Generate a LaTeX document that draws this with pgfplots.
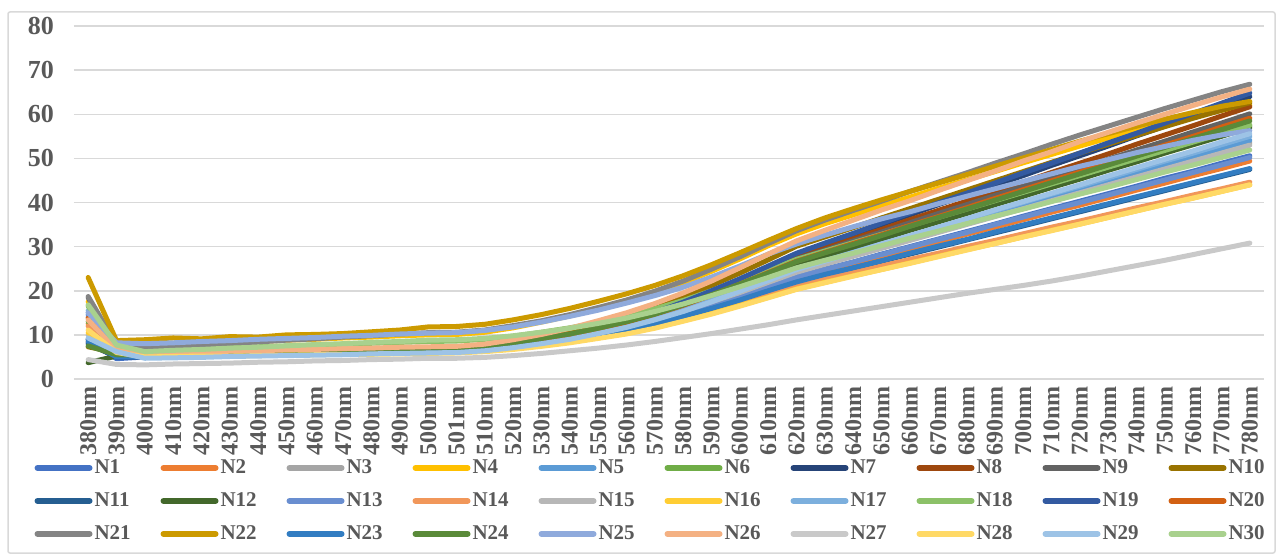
\documentclass[border=0pt]{standalone}
\usepackage{pgfplots}
\pgfplotsset{compat=1.18}
\usepackage{fontspec}
\setmainfont{Liberation Serif}

\definecolor{c01}{HTML}{4472C4}
\definecolor{c02}{HTML}{ED7D31}
\definecolor{c03}{HTML}{A5A5A5}
\definecolor{c04}{HTML}{FFC000}
\definecolor{c05}{HTML}{5B9BD5}
\definecolor{c06}{HTML}{70AD47}
\definecolor{c07}{HTML}{264478}
\definecolor{c08}{HTML}{9E480E}
\definecolor{c09}{HTML}{636363}
\definecolor{c10}{HTML}{997300}
\definecolor{c11}{HTML}{255E91}
\definecolor{c12}{HTML}{43682B}
\definecolor{c13}{HTML}{698ED0}
\definecolor{c14}{HTML}{F1975A}
\definecolor{c15}{HTML}{B7B7B7}
\definecolor{c16}{HTML}{FFCD33}
\definecolor{c17}{HTML}{7CAFDD}
\definecolor{c18}{HTML}{8CC168}
\definecolor{c19}{HTML}{335AA1}
\definecolor{c20}{HTML}{D26012}
\definecolor{c21}{HTML}{848484}
\definecolor{c22}{HTML}{CC9A00}
\definecolor{c23}{HTML}{327DC2}
\definecolor{c24}{HTML}{5A8A39}
\definecolor{c25}{HTML}{8FAADC}
\definecolor{c26}{HTML}{F4B183}
\definecolor{c27}{HTML}{C9C9C9}
\definecolor{c28}{HTML}{FFD966}
\definecolor{c29}{HTML}{9DC3E6}
\definecolor{c30}{HTML}{A9D18E}
\definecolor{txt}{HTML}{595959}
\definecolor{grd}{HTML}{D9D9D9}

\begin{document}
\begin{tikzpicture}
\path[use as bounding box] (0,0) rectangle (640.5pt,279pt);
\draw[grd, line width=0.75pt, rounded corners=1pt] (4pt,2.5pt) rectangle (637.5pt,273pt);
\begin{axis}[
  at={(37pt,89.5pt)}, anchor=south west,
  scale only axis, width=595pt, height=176.5pt,
  xmin=-0.5, xmax=41.5, ymin=0, ymax=80,
  ytick={0,10,...,80},
  xtick={0,...,41},
  xticklabels={380nm,390nm,400nm,410nm,420nm,430nm,440nm,450nm,460nm,470nm,480nm,490nm,500nm,501nm,510nm,520nm,530nm,540nm,550nm,560nm,570nm,580nm,590nm,600nm,610nm,620nm,630nm,640nm,650nm,660nm,670nm,680nm,690nm,700nm,710nm,720nm,730nm,740nm,750nm,760nm,770nm,780nm},
  x tick label style={rotate=90, anchor=east, font=\fontsize{12}{13}\selectfont\bfseries, text=txt},
  y tick label style={font=\fontsize{13}{15}\selectfont\bfseries, text=txt, xshift=-6.5pt},
  /pgf/number format/assume math mode=true,
  ymajorgrids, grid style={grd, line width=0.75pt},
  axis line style={draw=none},
  major tick length=0pt,
  every axis plot/.append style={line width=2.5pt, line join=round, line cap=round},
  legend columns=10,
  legend style={draw=none, fill=none, at={(-0.0335,-0.221)}, anchor=north west,
    inner sep=0pt, font=\fontsize{10.5}{12}\selectfont\bfseries, text=txt,
    row sep=6pt, nodes={inner sep=1pt},
    /tikz/every even column/.append style={column sep=4pt}},
  legend image code/.code={\draw[#1, line width=3pt, line cap=round] (0pt,0pt) -- (26pt,0pt);},
]
% 42 categories: 380,390,400..500,501,510..780
\addplot[c01] table[x expr=\coordindex,y index=0,header=false,row sep=\\]{9.0\\4.6\\5.0\\5.1\\5.3\\5.4\\5.5\\5.7\\5.8\\5.9\\6.0\\6.2\\6.3\\6.4\\6.7\\7.4\\8.2\\9.1\\10.2\\11.4\\13.0\\14.7\\16.7\\18.7\\20.9\\23.1\\24.9\\26.5\\28.3\\30.0\\31.7\\33.4\\35.1\\36.9\\38.6\\40.3\\42.0\\43.7\\45.5\\47.1\\48.9\\50.6\\};
\addlegendentry{\makebox[28pt][l]{N1}}
\addplot[c02] table[x expr=\coordindex,y index=0,header=false,row sep=\\]{12.5\\5.5\\5.3\\5.4\\5.5\\5.7\\5.8\\5.9\\6.0\\6.1\\6.3\\6.4\\6.5\\6.6\\6.9\\7.5\\8.3\\9.2\\10.3\\11.5\\12.9\\14.7\\16.5\\18.6\\20.7\\22.8\\24.5\\26.1\\27.8\\29.5\\31.1\\32.8\\34.4\\36.1\\37.8\\39.4\\41.1\\42.8\\44.4\\46.1\\47.7\\49.4\\};
\addlegendentry{\makebox[28pt][l]{N2}}
\addplot[c03] table[x expr=\coordindex,y index=0,header=false,row sep=\\]{14.0\\6.0\\5.5\\5.6\\5.8\\5.9\\6.0\\6.2\\6.3\\6.4\\6.5\\6.7\\6.8\\6.9\\7.3\\7.9\\8.8\\9.7\\10.9\\12.2\\13.8\\15.7\\17.7\\19.9\\22.2\\24.5\\26.4\\28.1\\30.0\\31.8\\33.6\\35.4\\37.2\\39.0\\40.8\\42.6\\44.4\\46.3\\48.1\\49.9\\51.7\\53.5\\};
\addlegendentry{\makebox[28pt][l]{N3}}
\addplot[c04] table[x expr=\coordindex,y index=0,header=false,row sep=\\]{17.5\\7.8\\7.5\\7.8\\8.0\\8.3\\8.5\\8.8\\9.0\\9.3\\9.5\\9.8\\10.0\\10.1\\10.6\\11.6\\12.9\\14.3\\15.9\\17.6\\19.6\\21.8\\24.4\\27.2\\30.2\\32.9\\35.2\\37.2\\39.3\\41.2\\43.2\\45.1\\47.0\\49.0\\50.9\\52.8\\54.6\\56.3\\57.9\\59.5\\60.9\\62.0\\};
\addlegendentry{\makebox[28pt][l]{N4}}
\addplot[c05] table[x expr=\coordindex,y index=0,header=false,row sep=\\]{15.0\\5.8\\5.3\\5.4\\5.5\\5.7\\5.8\\5.9\\6.0\\6.1\\6.3\\6.4\\6.5\\6.6\\7.0\\7.6\\8.5\\9.5\\10.7\\12.0\\13.6\\15.5\\17.6\\19.9\\22.2\\24.6\\26.4\\28.3\\30.1\\32.0\\33.8\\35.6\\37.5\\39.3\\41.2\\43.0\\44.9\\46.7\\48.6\\50.4\\52.2\\54.1\\};
\addlegendentry{\makebox[28pt][l]{N5}}
\addplot[c06] table[x expr=\coordindex,y index=0,header=false,row sep=\\]{13.0\\5.6\\5.3\\5.5\\5.6\\5.8\\5.9\\6.1\\6.2\\6.4\\6.5\\6.7\\6.8\\6.9\\7.3\\8.0\\8.9\\10.0\\11.3\\12.7\\14.4\\16.4\\18.7\\21.1\\23.5\\26.1\\28.0\\30.0\\31.9\\33.9\\35.9\\37.8\\39.8\\41.8\\43.8\\45.7\\47.7\\49.6\\51.6\\53.5\\55.5\\57.5\\};
\addlegendentry{\makebox[28pt][l]{N6}}
\addplot[c07] table[x expr=\coordindex,y index=0,header=false,row sep=\\]{8.0\\5.0\\5.0\\5.1\\5.3\\5.4\\5.6\\5.7\\5.8\\6.0\\6.1\\6.3\\6.4\\6.5\\7.0\\7.8\\8.8\\10.0\\11.5\\13.1\\15.0\\17.3\\19.9\\22.6\\25.4\\28.3\\30.5\\32.7\\35.0\\37.2\\39.5\\41.7\\43.9\\46.1\\48.4\\50.6\\52.8\\55.1\\57.3\\59.5\\61.8\\64.0\\};
\addlegendentry{\makebox[28pt][l]{N7}}
\addplot[c08] table[x expr=\coordindex,y index=0,header=false,row sep=\\]{8.5\\5.5\\5.2\\5.3\\5.5\\5.6\\5.8\\5.9\\6.0\\6.2\\6.3\\6.5\\6.6\\6.7\\7.2\\7.9\\8.9\\10.1\\11.5\\13.0\\14.9\\17.1\\19.5\\22.1\\24.8\\27.5\\29.7\\31.8\\33.9\\36.1\\38.2\\40.3\\42.5\\44.6\\46.8\\48.9\\51.0\\53.2\\55.3\\57.4\\59.6\\61.7\\};
\addlegendentry{\makebox[28pt][l]{N8}}
\addplot[c09] table[x expr=\coordindex,y index=0,header=false,row sep=\\]{18.5\\6.8\\5.6\\5.7\\5.9\\6.0\\6.2\\6.3\\6.4\\6.6\\6.7\\6.9\\7.0\\7.1\\7.5\\8.3\\9.2\\10.3\\11.7\\13.2\\15.0\\17.1\\19.4\\21.9\\24.5\\27.2\\29.2\\31.3\\33.3\\35.4\\37.5\\39.5\\41.6\\43.6\\45.7\\47.7\\49.8\\51.9\\53.9\\56.0\\58.0\\60.1\\};
\addlegendentry{\makebox[28pt][l]{N9}}
\addplot[c10] table[x expr=\coordindex,y index=0,header=false,row sep=\\]{7.3\\6.0\\5.5\\5.7\\5.8\\6.0\\6.1\\6.3\\6.4\\6.6\\6.7\\6.9\\7.0\\7.1\\7.6\\8.5\\9.7\\11.0\\12.6\\14.3\\16.3\\18.6\\21.2\\24.0\\27.0\\30.1\\32.2\\34.3\\36.5\\38.6\\40.7\\42.8\\44.9\\47.0\\49.1\\51.2\\53.2\\55.2\\57.2\\59.1\\60.9\\62.6\\};
\addlegendentry{\makebox[28pt][l]{N10}}
\addplot[c11] table[x expr=\coordindex,y index=0,header=false,row sep=\\]{8.2\\5.0\\5.0\\5.1\\5.2\\5.4\\5.5\\5.6\\5.7\\5.8\\6.0\\6.1\\6.2\\6.3\\6.6\\7.2\\7.9\\8.8\\9.8\\11.0\\12.4\\14.1\\15.9\\17.8\\19.8\\21.9\\23.5\\25.1\\26.7\\28.3\\29.9\\31.5\\33.1\\34.7\\36.3\\37.9\\39.5\\41.1\\42.7\\44.3\\45.9\\47.5\\};
\addlegendentry{\makebox[28pt][l]{N11}}
\addplot[c12] table[x expr=\coordindex,y index=0,header=false,row sep=\\]{3.7\\5.2\\5.2\\5.4\\5.5\\5.7\\5.8\\6.0\\6.2\\6.3\\6.5\\6.6\\6.8\\6.9\\7.3\\8.0\\8.9\\10.0\\11.2\\12.6\\14.3\\16.3\\18.6\\20.9\\23.4\\25.9\\27.8\\29.7\\31.7\\33.7\\35.6\\37.5\\39.5\\41.4\\43.4\\45.3\\47.3\\49.2\\51.2\\53.1\\55.0\\57.0\\};
\addlegendentry{\makebox[28pt][l]{N12}}
\addplot[c13] table[x expr=\coordindex,y index=0,header=false,row sep=\\]{14.5\\5.2\\5.2\\5.3\\5.5\\5.6\\5.7\\5.9\\6.0\\6.1\\6.2\\6.4\\6.5\\6.6\\6.9\\7.6\\8.3\\9.3\\10.3\\11.6\\13.1\\14.8\\16.7\\18.8\\20.9\\23.1\\24.8\\26.5\\28.2\\29.9\\31.6\\33.2\\35.0\\36.7\\38.4\\40.0\\41.7\\43.4\\45.1\\46.8\\48.5\\50.2\\};
\addlegendentry{\makebox[28pt][l]{N13}}
\addplot[c14] table[x expr=\coordindex,y index=0,header=false,row sep=\\]{12.0\\5.6\\5.6\\5.7\\5.9\\6.0\\6.1\\6.3\\6.4\\6.5\\6.6\\6.8\\6.9\\7.0\\7.3\\7.8\\8.5\\9.3\\10.2\\11.3\\12.6\\14.1\\15.7\\17.5\\19.3\\21.2\\22.7\\24.1\\25.6\\27.1\\28.5\\30.0\\31.4\\32.9\\34.4\\35.8\\37.3\\38.8\\40.2\\41.7\\43.1\\44.6\\};
\addlegendentry{\makebox[28pt][l]{N14}}
\addplot[c15] table[x expr=\coordindex,y index=0,header=false,row sep=\\]{10.0\\5.5\\5.3\\5.4\\5.6\\5.7\\5.8\\6.0\\6.1\\6.2\\6.3\\6.5\\6.6\\6.7\\7.1\\7.7\\8.6\\9.5\\10.7\\12.0\\13.6\\15.4\\17.5\\19.6\\21.9\\24.2\\26.0\\27.8\\29.6\\31.4\\33.2\\35.0\\36.8\\38.6\\40.4\\42.2\\44.0\\45.8\\47.6\\49.4\\51.2\\53.0\\};
\addlegendentry{\makebox[28pt][l]{N15}}
\addplot[c16] table[x expr=\coordindex,y index=0,header=false,row sep=\\]{10.5\\6.0\\5.0\\5.1\\5.2\\5.3\\5.4\\5.5\\5.6\\5.7\\5.8\\5.9\\6.0\\6.1\\6.4\\6.9\\7.6\\8.4\\9.3\\10.4\\11.7\\13.2\\14.9\\16.7\\18.5\\20.4\\21.9\\23.4\\24.8\\26.3\\27.8\\29.3\\30.7\\32.2\\33.7\\35.1\\36.6\\38.1\\39.6\\41.0\\42.5\\44.0\\};
\addlegendentry{\makebox[28pt][l]{N16}}
\addplot[c17] table[x expr=\coordindex,y index=0,header=false,row sep=\\]{15.5\\6.0\\5.5\\5.6\\5.7\\5.8\\5.9\\6.0\\6.1\\6.2\\6.3\\6.4\\6.5\\6.6\\7.0\\7.7\\8.5\\9.6\\10.8\\12.1\\13.8\\15.7\\17.9\\20.1\\22.5\\24.9\\26.8\\28.7\\30.6\\32.4\\34.3\\36.2\\38.1\\40.0\\41.9\\43.7\\45.6\\47.5\\49.4\\51.2\\53.1\\55.0\\};
\addlegendentry{\makebox[28pt][l]{N17}}
\addplot[c18] table[x expr=\coordindex,y index=0,header=false,row sep=\\]{16.5\\7.6\\6.5\\6.7\\6.9\\7.1\\7.3\\7.5\\7.7\\7.9\\8.1\\8.3\\8.5\\8.6\\9.0\\9.7\\10.6\\11.6\\12.8\\14.2\\15.9\\17.8\\20.0\\22.3\\24.7\\27.1\\29.0\\30.9\\32.8\\34.7\\36.6\\38.5\\40.4\\42.3\\44.2\\46.1\\48.0\\49.9\\51.8\\53.7\\55.6\\57.5\\};
\addlegendentry{\makebox[28pt][l]{N18}}
\addplot[c19] table[x expr=\coordindex,y index=0,header=false,row sep=\\]{9.0\\5.0\\5.0\\5.1\\5.3\\5.4\\5.5\\5.7\\5.8\\5.9\\6.0\\6.2\\6.3\\6.4\\6.9\\7.7\\8.8\\10.0\\11.5\\13.1\\15.1\\17.4\\20.0\\22.7\\25.6\\28.5\\30.8\\33.0\\35.3\\37.6\\39.9\\42.1\\44.4\\46.7\\48.9\\51.2\\53.5\\55.7\\58.0\\60.2\\62.5\\64.8\\};
\addlegendentry{\makebox[28pt][l]{N19}}
\addplot[c20] table[x expr=\coordindex,y index=0,header=false,row sep=\\]{13.8\\5.8\\5.4\\5.5\\5.7\\5.8\\6.0\\6.1\\6.2\\6.4\\6.5\\6.7\\6.8\\6.9\\7.3\\8.1\\9.0\\10.1\\11.4\\12.9\\14.7\\16.7\\19.0\\21.5\\24.1\\26.7\\28.7\\30.7\\32.7\\34.8\\36.8\\38.8\\40.9\\42.9\\44.9\\46.9\\49.0\\51.0\\53.0\\55.0\\57.1\\59.1\\};
\addlegendentry{\makebox[28pt][l]{N20}}
\addplot[c21] table[x expr=\coordindex,y index=0,header=false,row sep=\\]{18.7\\7.8\\7.0\\7.4\\7.7\\8.1\\8.4\\8.8\\9.1\\9.5\\9.8\\10.2\\10.5\\10.6\\11.1\\12.1\\13.2\\14.6\\16.2\\17.9\\19.9\\22.2\\24.9\\27.7\\30.7\\33.6\\36.0\\38.2\\40.3\\42.5\\44.6\\46.7\\48.9\\51.0\\53.2\\55.3\\57.3\\59.3\\61.3\\63.2\\65.1\\66.8\\};
\addlegendentry{\makebox[28pt][l]{N21}}
\addplot[c22] table[x expr=\coordindex,y index=0,header=false,row sep=\\]{23.0\\8.7\\8.9\\9.3\\9.1\\9.6\\9.5\\10.0\\10.1\\10.3\\10.7\\11.1\\11.8\\11.9\\12.4\\13.4\\14.6\\16.0\\17.6\\19.3\\21.2\\23.4\\25.9\\28.6\\31.4\\34.1\\36.5\\38.6\\40.6\\42.5\\44.4\\46.3\\48.2\\50.1\\52.0\\53.9\\55.6\\57.3\\58.9\\60.4\\61.8\\62.9\\};
\addlegendentry{\makebox[28pt][l]{N22}}
\addplot[c23] table[x expr=\coordindex,y index=0,header=false,row sep=\\]{8.5\\5.0\\5.0\\5.1\\5.3\\5.4\\5.5\\5.7\\5.8\\5.9\\6.0\\6.2\\6.3\\6.4\\6.7\\7.3\\8.0\\8.9\\9.9\\11.1\\12.5\\14.2\\16.0\\17.9\\20.0\\22.0\\23.7\\25.2\\26.8\\28.5\\30.1\\31.6\\33.3\\34.9\\36.5\\38.1\\39.7\\41.3\\42.9\\44.5\\46.1\\47.7\\};
\addlegendentry{\makebox[28pt][l]{N23}}
\addplot[c24] table[x expr=\coordindex,y index=0,header=false,row sep=\\]{7.5\\5.5\\5.4\\5.6\\5.7\\5.9\\6.0\\6.2\\6.4\\6.5\\6.7\\6.8\\7.0\\7.1\\7.5\\8.2\\9.2\\10.2\\11.5\\13.0\\14.7\\16.8\\19.1\\21.5\\24.0\\26.6\\28.6\\30.5\\32.5\\34.6\\36.6\\38.5\\40.5\\42.5\\44.5\\46.5\\48.5\\50.5\\52.5\\54.5\\56.5\\58.5\\};
\addlegendentry{\makebox[28pt][l]{N24}}
\addplot[c25] table[x expr=\coordindex,y index=0,header=false,row sep=\\]{15.0\\8.2\\8.0\\8.2\\8.5\\8.7\\9.0\\9.2\\9.4\\9.7\\9.9\\10.2\\10.4\\10.5\\11.0\\11.8\\12.9\\14.2\\15.6\\17.2\\18.9\\20.8\\23.1\\25.6\\28.3\\30.6\\32.6\\34.5\\36.3\\37.9\\39.7\\41.4\\43.1\\44.8\\46.5\\48.2\\49.7\\51.3\\52.7\\54.1\\55.3\\56.3\\};
\addlegendentry{\makebox[28pt][l]{N25}}
\addplot[c26] table[x expr=\coordindex,y index=0,header=false,row sep=\\]{13.4\\6.5\\5.8\\6.0\\6.1\\6.3\\6.4\\6.6\\6.7\\6.9\\7.0\\7.2\\7.3\\7.4\\7.9\\8.9\\10.1\\11.5\\13.2\\15.0\\17.1\\19.5\\22.2\\25.2\\28.3\\31.3\\33.7\\36.0\\38.3\\40.4\\42.7\\44.9\\47.1\\49.4\\51.5\\53.8\\55.9\\58.0\\60.0\\62.0\\63.9\\65.7\\};
\addlegendentry{\makebox[28pt][l]{N26}}
\addplot[c27] table[x expr=\coordindex,y index=0,header=false,row sep=\\]{4.4\\3.3\\3.2\\3.4\\3.5\\3.6\\3.8\\3.9\\4.1\\4.2\\4.4\\4.5\\4.7\\4.7\\4.9\\5.3\\5.8\\6.4\\7.0\\7.7\\8.5\\9.4\\10.3\\11.3\\12.3\\13.4\\14.4\\15.4\\16.4\\17.4\\18.4\\19.4\\20.3\\21.2\\22.2\\23.3\\24.5\\25.7\\26.9\\28.2\\29.5\\30.8\\};
\addlegendentry{\makebox[28pt][l]{N27}}
\addplot[c28] table[x expr=\coordindex,y index=0,header=false,row sep=\\]{11.1\\6.0\\5.0\\5.1\\5.2\\5.2\\5.3\\5.4\\5.5\\5.6\\5.6\\5.7\\5.8\\5.9\\6.2\\6.7\\7.4\\8.2\\9.2\\10.2\\11.5\\13.1\\14.7\\16.5\\18.4\\20.3\\21.8\\23.3\\24.8\\26.2\\27.7\\29.2\\30.7\\32.2\\33.6\\35.1\\36.6\\38.1\\39.6\\41.0\\42.5\\44.0\\};
\addlegendentry{\makebox[28pt][l]{N28}}
\addplot[c29] table[x expr=\coordindex,y index=0,header=false,row sep=\\]{9.3\\6.2\\4.7\\4.8\\4.9\\5.1\\5.2\\5.3\\5.4\\5.5\\5.7\\5.8\\5.9\\6.0\\6.4\\7.1\\8.0\\9.0\\10.3\\11.7\\13.4\\15.3\\17.5\\19.9\\22.3\\24.8\\26.7\\28.6\\30.6\\32.5\\34.4\\36.3\\38.3\\40.2\\42.1\\44.0\\46.0\\47.9\\49.8\\51.7\\53.7\\55.6\\};
\addlegendentry{\makebox[28pt][l]{N29}}
\addplot[c30] table[x expr=\coordindex,y index=0,header=false,row sep=\\]{16.8\\7.7\\6.2\\6.5\\6.7\\7.0\\7.2\\7.5\\7.8\\8.0\\8.3\\8.5\\8.8\\8.9\\9.2\\9.8\\10.6\\11.5\\12.6\\13.8\\15.3\\17.0\\18.9\\20.9\\23.0\\25.2\\26.9\\28.5\\30.2\\31.9\\33.5\\35.2\\36.9\\38.5\\40.2\\41.9\\43.5\\45.2\\46.9\\48.5\\50.2\\51.9\\};
\addlegendentry{\makebox[28pt][l]{N30}}
\end{axis}
\end{tikzpicture}
\end{document}
